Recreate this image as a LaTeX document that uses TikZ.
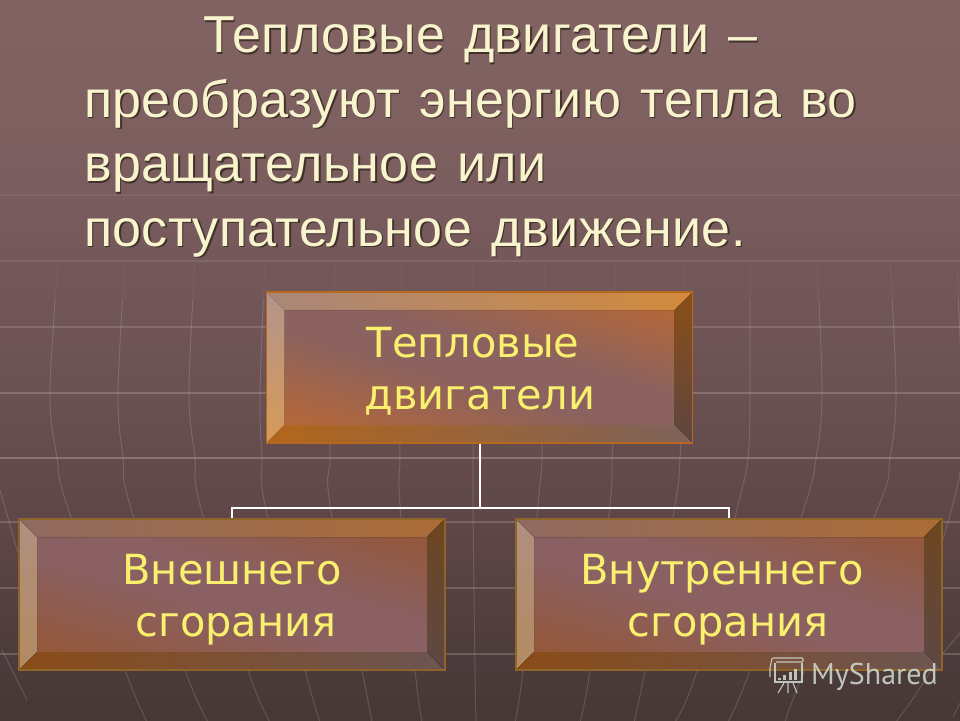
\documentclass[tikz,border=0pt]{standalone}
\usepackage{fontspec}
\setmainfont{Liberation Sans}
\newfontfamily\titlefont[WordSpace=1.3,LetterSpace=0.6]{Liberation Sans}
\newfontfamily\boxfont{DejaVu Sans}
\newfontfamily\markfont{PT Sans}
\usetikzlibrary{calc}
\definecolor{ttl}{HTML}{F8F4CE}
\definecolor{ttlsh}{HTML}{33261C}
\definecolor{boxtxt}{HTML}{F9F06E}
\definecolor{wire}{HTML}{FFFFFF}
\definecolor{gridc}{HTML}{F2DCDC}
\definecolor{mk}{HTML}{D3DCD3}
\definecolor{c0}{HTML}{352A29}\definecolor{c1}{HTML}{382C2B}\definecolor{c2}{HTML}{3F3231}
\definecolor{c3}{HTML}{4A3A3A}\definecolor{c4}{HTML}{5C4546}\definecolor{c5}{HTML}{6E5455}
\definecolor{c6}{HTML}{7D5F60}\definecolor{c7}{HTML}{886767}\definecolor{c8}{HTML}{8B6A6A}
\definecolor{ftO}{HTML}{C4692A}\definecolor{ftM}{HTML}{8B625F}
\definecolor{flO}{HTML}{98542A}\definecolor{flM}{HTML}{8A6062}
\definecolor{ta}{HTML}{A98779}\definecolor{tb}{HTML}{D28A3C}\definecolor{tc}{HTML}{B3948C}\definecolor{td}{HTML}{D79A58}
\definecolor{te}{HTML}{8A4E16}\definecolor{tf}{HTML}{5E4641}\definecolor{tg}{HTML}{B2661C}\definecolor{th}{HTML}{7E625A}
\definecolor{la}{HTML}{8F6A60}\definecolor{lb}{HTML}{AB6C36}\definecolor{lc}{HTML}{B08F80}\definecolor{ld}{HTML}{B38A60}
\definecolor{le}{HTML}{6E4620}\definecolor{lf}{HTML}{5E4845}\definecolor{lg}{HTML}{8A4C18}\definecolor{lh}{HTML}{6C5552}
\definecolor{edgetop}{HTML}{B8681E}\definecolor{edgelow}{HTML}{8E6428}
\pgfdeclareverticalshading{bgshade}{100bp}{
 color(0bp)=(c0); color(7bp)=(c1); color(18bp)=(c2); color(28bp)=(c3);
 color(37.5bp)=(c4); color(51bp)=(c5); color(65bp)=(c6); color(86bp)=(c7); color(100bp)=(c8)}
\pgfdeclareverticalshading{facetop}{100bp}{
 color(0bp)=(ftO); color(17bp)=(ftO); color(46bp)=(ftM); color(56bp)=(ftM); color(83bp)=(ftO); color(100bp)=(ftO)}
\pgfdeclareverticalshading{facelow}{100bp}{
 color(0bp)=(flO); color(17bp)=(flO); color(46bp)=(flM); color(56bp)=(flM); color(83bp)=(flO); color(100bp)=(flO)}
% #1 face shading, #2-#3 top bevel, #4-#5 left bevel (top,bottom), #6-#7 right bevel (top,bottom), #8-#9 bottom bevel
\newcommand\bevelart[9]{%
 \path[shading=#1,shading angle=-16] ($(path picture bounding box.south west)+(18pt,18pt)$) rectangle ($(path picture bounding box.north east)+(-18pt,-18pt)$);
 \fill[left color=#2,right color=#3] (path picture bounding box.north west) -- (path picture bounding box.north east) -- ($(path picture bounding box.north east)+(-18pt,-18pt)$) -- ($(path picture bounding box.north west)+(18pt,-18pt)$) -- cycle;
 \fill[top color=#4,bottom color=#5] (path picture bounding box.north west) -- ($(path picture bounding box.north west)+(18pt,-18pt)$) -- ($(path picture bounding box.south west)+(18pt,18pt)$) -- (path picture bounding box.south west) -- cycle;
 \fill[top color=#6,bottom color=#7] (path picture bounding box.north east) -- ($(path picture bounding box.north east)+(-18pt,-18pt)$) -- ($(path picture bounding box.south east)+(-18pt,18pt)$) -- (path picture bounding box.south east) -- cycle;
 \fill[left color=#8,right color=#9] (path picture bounding box.south west) -- (path picture bounding box.south east) -- ($(path picture bounding box.south east)+(-18pt,18pt)$) -- ($(path picture bounding box.south west)+(18pt,18pt)$) -- cycle;
}
\tikzset{
 bevelbase/.style={rectangle,inner sep=0pt,minimum width=426pt,minimum height=151pt,line width=1.2pt},
 boxtext/.style={font=\boxfont\fontsize{41.5}{52}\selectfont,text=boxtxt,align=center,inner sep=0pt},
 link/.style={draw=wire,line width=2pt},
 hgrid/.style={draw=gridc,line width=1.3pt},
 meridian/.style={draw=gridc,line width=1pt},
 titletext/.style={font=\titlefont\fontsize{52}{64.5}\selectfont,align=left,anchor=north west,inner sep=0pt},
 topbox/.style={bevelbase,draw=edgetop,path picture={\bevelart{facetop}{ta}{tb}{tc}{td}{te}{tf}{tg}{th}}},
 lowbox/.style={bevelbase,draw=edgelow,path picture={\bevelart{facelow}{la}{lb}{lc}{ld}{le}{lf}{lg}{lh}}}
}
\newcommand\titlelines{\hspace*{119pt}Тепловые двигатели –\\преобразуют энергию тепла во\\вращательное или\\поступательное движение.}
\newcommand\merid[6]{\draw[meridian] plot[smooth,tension=.6] coordinates {(#1,261) (#2,393) (#3,458) (#4,505) (#5,670) (#6,722)};}
\newcommand\allmerid{%
 \merid{58}{50}{57}{67}{125}{147}\merid{125}{118}{123}{130}{185}{208}\merid{195}{189}{195}{200}{248}{270}
 \merid{265}{260}{262}{265}{305}{320}\merid{335}{330}{330}{330}{362}{372}\merid{402}{400}{400}{400}{415}{422}
 \merid{473}{473}{473}{473}{475}{476}\merid{545}{542}{542}{538}{523}{515}\merid{615}{615}{612}{610}{590}{580}
 \merid{685}{682}{680}{675}{645}{634}\merid{750}{750}{748}{738}{697}{675}\merid{817}{822}{816}{805}{750}{728}
 \merid{890}{896}{890}{879}{805}{785}%
 \draw[meridian] plot[smooth,tension=.6] coordinates {(957,267) (962,393) (962,458) (950,515) (930,580)};
 \draw[meridian] (0,490) -- (18,553);\draw[meridian] (2,650) -- (27,700);
 \draw[meridian] (960,633) -- (940,657) -- (910,703) -- (896,722);\draw[meridian] (953,717) -- (960,703);}
\begin{document}
\begin{tikzpicture}[x=1pt,y=-1pt]
\useasboundingbox (0,0) rectangle (960,720);
\fill[shading=bgshade] (0,0) rectangle (960,720);
% background grid
\foreach \yy/\oo in {195/.07,261/.1,327/.17,393/.22,458/.27,522/.2,588/.2,654/.2}
  \draw[hgrid,draw opacity=\oo] (0,\yy) -- (960,\yy);
\begin{scope}\clip (0,190) rectangle (960,300);\begin{scope}[opacity=.05]\allmerid\end{scope}\end{scope}
\begin{scope}\clip (0,300) rectangle (960,720);\begin{scope}[opacity=.17]\allmerid\end{scope}\end{scope}
% title
\node[titletext,text=ttlsh,opacity=.8] (titleshadow) at (85.5,18.5) {\titlelines};
\node[titletext,text=ttl] (title) at (84,17) {\titlelines};
% boxes
\node[topbox] (main) at (479.5,367.5) {};
\node[lowbox] (ext) at (232,594.5) {};
\node[lowbox] (int) at (729,594.5) {};
\node[boxtext] (maintext) at (480,371) {Тепловые\hspace*{14pt}\\двигатели};
\node[boxtext] (exttext) at (232,600) {Внешнего\\\hspace*{8pt}сгорания};
\node[boxtext] (inttext) at (722,600) {Внутреннего\\\hspace*{12pt}сгорания};
% connectors
\coordinate (bus) at (main.south |- 0,508);
\draw[link] (main.south) -- (bus);
\draw[link] (ext.north) -- (ext.north |- bus) -- (int.north |- bus) -- (int.north);
% watermark
\node[font=\markfont\fontsize{30}{30}\selectfont,text=mk,opacity=.85,anchor=base west,inner sep=0pt] (mark) at (811,684) {MyShared};
\begin{scope}[draw=mk,opacity=.85,line width=1.1pt]
 \draw[rounded corners=1pt] (770,668) -- (770,677) (770,668) -- (772,658) -- (803,658) -- (803,662) -- (776,662);
 \draw (775,663) -- (775,682) -- (802,682) -- (802,663);
 \draw (784,683) -- (778,693) (788,683) -- (788,693) (793,683) -- (797,693);
 \foreach \bx/\by in {779/678,784/675,790/672,795/669} \fill[mk] (\bx-1.5,\by) rectangle (\bx+1.5,680);
\end{scope}
\end{tikzpicture}
\end{document}
